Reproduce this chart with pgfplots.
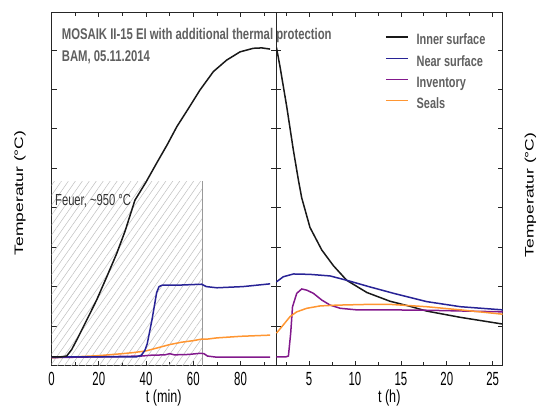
\documentclass[border=0pt]{standalone}
\usepackage{pgfplots}
\pgfplotsset{compat=1.18}
\usetikzlibrary{patterns.meta}
\usepackage{fontspec}
\setmainfont{Liberation Sans}
\definecolor{cBlack}{RGB}{25,25,25}
\definecolor{cBlue}{RGB}{40,35,150}
\definecolor{cPurple}{RGB}{130,25,140}
\definecolor{cOrange}{RGB}{255,150,50}
\definecolor{cText}{RGB}{95,95,95}
\definecolor{cHatch}{RGB}{190,190,190}
\pgfplotsset{mylegimg/.style={legend image code/.code={\draw[##1] (0pt,3pt) -- (22pt,3pt);}}}
\begin{document}
\begin{tikzpicture}[x=1pt,y=1pt]
\pgfplotsset{
  myaxis/.style={
    scale only axis, anchor=south west,
    height=353.5pt, ymin=0, ymax=896,
    ytick={0,100,...,800}, yticklabels={},
    axis line style={line width=0.9pt, black!85},
    major tick length=5pt, minor tick length=3.5pt,
    every tick/.style={black!85, line width=0.7pt},
    /pgf/number format/assume math mode=true,
    xticklabel style={font=\fontsize{19}{20}\selectfont, xscale=0.6, yshift=-3pt},
    xlabel style={at={(axis description cs:0.5,0)}, anchor=base, yshift=-37.2pt, font=\fontsize{17.5}{18}\selectfont, xscale=0.72},
  }
}
\begin{axis}[myaxis, name=L, at={(51.5pt,42.5pt)}, width=224.5pt,
  xmin=0, xmax=95, xtick={0,20,...,80}, minor xtick={10,30,...,90},
  xlabel={t (min)}]
\addplot[draw=none, pattern={Lines[angle=55, distance=5.7pt, line width=0.5pt]}, pattern color=cHatch, forget plot] coordinates {(0,467) (64,467)} \closedcycle;
\addplot[black!40, line width=0.7pt, forget plot] coordinates {(64,0) (64,467)};
\addplot[cOrange, line width=1.5pt] coordinates {(0,20)(10,22)(20,25)(30,30)(35,33)(40,37)(45,45)(50,53)(55,59)(60,63)(63.6,67)(66,67)(70,70)(80,74)(92.5,77)};
\addplot[cPurple, line width=1.5pt] coordinates {(0,20)(10,21)(20,22)(30,23)(38,24)(42,26)(48,27)(50,30)(52,27)(58,28)(63,31)(64.5,30)(66,24)(70,21)(80,21)(92.5,21)};
\addplot[cBlue, line width=1.5pt] coordinates {(0,22)(36,22)(38,26)(39.5,38)(40.5,55)(41.5,85)(42.5,115)(43.5,150)(44.5,185)(45.5,200)(47,204)(55,204)(63.5,206)(65.5,200)(70,197)(81,200)(92.5,207)};
\addplot[cBlack, line width=1.5pt] coordinates {(0,22)(4,22)(6.4,24)(8.5,40)(10.7,65)(14.9,115)(19.1,166)(23.4,225)(27.6,284)(31.1,340)(35.3,419)(40,465)(44.5,513)(49,560)(53,605)(58,652)(62.8,698)(68.5,745)(74.1,774)(79.8,795)(85.4,804)(89,805)(92.5,802)};
\end{axis}
\begin{axis}[myaxis, name=R, at={(276pt,42.5pt)}, width=226.5pt,
  xmin=1.4, xmax=26.07, xtick={5,10,...,25}, minor xtick={2.5,7.5,...,25},
  xlabel={t (h)},
  legend style={at={(0.481,0.944)}, anchor=north west, draw=none, fill=none,
    font=\fontsize{15}{16}\selectfont\bfseries, inner sep=0pt, row sep=5pt},
  legend cell align=left, mylegimg]
\addplot[cBlack, line width=1.5pt] coordinates {(1.45,806)(1.84,757)(2.57,656)(3.29,546)(3.84,470)(4.2,425)(5.1,350)(6.38,293)(7.65,253)(9.1,216)(11.3,185)(13.8,163)(16,150)(17.8,138)(21.5,122)(26.1,105)};
\addlegendentry{\hspace*{6pt}\textcolor{cText}{\scalebox{0.73}[1]{Inner surface}}}
\addplot[cBlue, line width=1.5pt] coordinates {(1.45,212)(2.2,225)(3.3,232)(5.1,231)(7.3,227)(9.1,216)(11.5,200)(14.2,183)(17.8,162)(21.5,149)(26.1,141)};
\addlegendentry{\hspace*{6pt}\textcolor{cText}{\scalebox{0.73}[1]{Near surface}}}
\addplot[cPurple, line width=1.5pt] coordinates {(1.45,22)(2.5,22)(2.75,24)(3.0,82)(3.2,149)(3.66,183)(4.2,194)(4.75,191)(5.47,183)(6.38,166)(7.3,153)(8.4,145)(10.2,141)(13.8,141)(18,140)(22,138)(26.1,136)};
\addlegendentry{\hspace*{6pt}\textcolor{cText}{\scalebox{0.73}[1]{Inventory}}}
\addplot[cOrange, line width=1.5pt] coordinates {(1.45,82)(2.2,103)(2.93,124)(3.66,136)(4.75,145)(6.2,151)(8.0,153)(11.6,155)(13.8,155)(17.8,149)(21.5,141)(26.1,130)};
\addlegendentry{\hspace*{6pt}\textcolor{cText}{\scalebox{0.73}[1]{Seals}}}
\end{axis}
\node[anchor=base west, inner sep=0pt, text=cText, font=\fontsize{15.5}{18}\selectfont\bfseries] at (61.7,368.7) {\scalebox{0.73}[1]{MOSAIK II-15 EI with additional thermal protection}};
\node[anchor=base west, inner sep=0pt, text=cText, font=\fontsize{15.5}{18}\selectfont\bfseries] at (61.7,346.3) {\scalebox{0.73}[1]{BAM, 05.11.2014}};
\node[anchor=base west, inner sep=0pt, text=black!80, font=\fontsize{16}{18}\selectfont] at (55,203) {\scalebox{0.7}[1]{Feuer, \textasciitilde950 °C}};
\node[rotate=90, inner sep=0pt, font=\fontsize{17.5}{18}\selectfont] at (20,215) {\scalebox{1}[0.7]{Temperatur (°C)}};
\node[rotate=90, anchor=base, inner sep=0pt, font=\fontsize{17.5}{18}\selectfont] at (533.5,213) {\scalebox{1}[0.7]{Temperatur (°C)}};
\pgfresetboundingbox
\path[use as bounding box] (0,0) rectangle (537,408);
\end{tikzpicture}
\end{document}
